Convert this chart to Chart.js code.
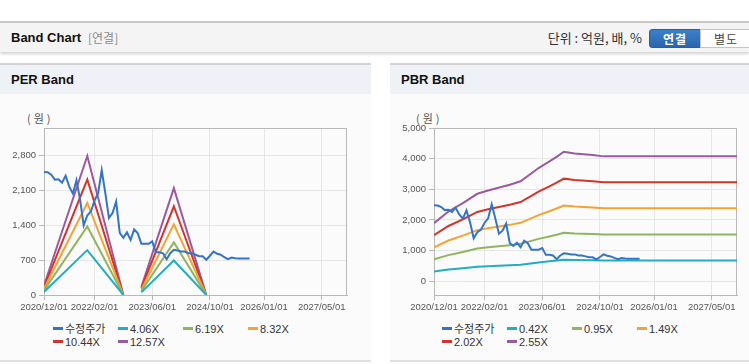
<!DOCTYPE html>
<html>
<head>
<meta charset="utf-8">
<script src="https://cdn.jsdelivr.net/npm/chart.js@4.4.1/dist/chart.umd.min.js"></script>
<style>
  body { margin: 0; width: 749px; height: 364px; overflow: hidden; position: relative; background: #fff;
         font-family: "Liberation Sans", "Noto Sans CJK KR", sans-serif; color: #333; }
  .topline { position: absolute; left: 0; top: 21px; width: 749px; height: 2px; background: #c8c8c8; }
  .bar { position: absolute; left: 0; top: 23px; width: 749px; height: 29px; background: #f4f4f4;
         box-shadow: 0 2px 3px rgba(0,0,0,0.18); }
  .bar .title { position: absolute; left: 11px; top: 7px; font-size: 13px; font-weight: bold; color: #111; }
  .bar .sub { position: absolute; left: 88px; top: 8px; font-size: 12px; color: #8a8a8a; font-family: "Noto Sans CJK KR", sans-serif; line-height: 14px; }
  .bar .unit { position: absolute; right: 107px; top: 6px; font-size: 13px; color: #333; font-family: "Noto Sans CJK KR", sans-serif; line-height: 17px; }
  .btn { position: absolute; top: 6px; height: 19px; width: 52px; box-sizing: border-box; font-size: 12px; line-height: 17px;
         text-align: center; font-family: "Noto Sans CJK KR", sans-serif; font-weight: bold; letter-spacing: 1px; }
  .btn.on { left: 649px; background: linear-gradient(#3d7fcc, #2a66ad); color: #fff; border: 1px solid #2a5f9e; border-radius: 3px 0 0 3px; }
  .btn.off { left: 700px; width: 52px; background: #fff; color: #444; border: 1px solid #c4c4c4; font-weight: normal; }
  .panel { position: absolute; top: 63px; height: 299px; background: #fbfbfb; border-top: 2px solid #d4d4d4; border-bottom: 2px solid #e0e0e0; box-sizing: border-box; }
  .panel .head { position: absolute; left: 0; top: 0; right: 0; height: 29px; background: #eef1f6; }
  .panel .head span { position: absolute; left: 11px; top: 7px; font-size: 13px; font-weight: bold; color: #111; }
  .unitlbl { position: absolute; top: 110px; font-size: 11px; color: #555; letter-spacing: 3px; font-family: "Noto Sans CJK KR", sans-serif; }
  canvas { position: absolute; top: 110px; }
  .legend { position: absolute; top: 323px; width: 270px; font-size: 11px; line-height: 13px; color: #333; }
  .legend .item { display: inline-block; width: 65px; white-space: nowrap; }
  .legend .mark { display: inline-block; width: 10px; height: 3px; margin-right: 2px; vertical-align: 3px; }
</style>
</head>
<body>
<div class="topline"></div>
<div class="bar">
  <div class="title">Band Chart</div>
  <div class="sub">[연결]</div>
  <div class="unit">단위 : 억원, 배, %</div>
  <div class="btn on">연결</div>
  <div class="btn off">별도</div>
</div>
<div class="panel" style="left:0;width:371px"><div class="head"><span>PER Band</span></div></div>
<div class="panel" style="left:390px;width:362px"><div class="head"><span>PBR Band</span></div></div>
<div class="unitlbl" style="left:27px">(원)</div>
<div class="unitlbl" style="left:416px">(원)</div>
<canvas id="per" width="370" height="205" style="left:0"></canvas>
<canvas id="pbr" width="359" height="205" style="left:390px"></canvas>
<div class="legend" id="perLegend" style="left:53px"></div>
<div class="legend" id="pbrLegend" style="left:442px"></div>
<script>
// x axis: months counted from 2020/12
const xTickMonths = [0, 14, 30, 46, 61, 77];
const xTickLabels = ['2020/12/01', '2022/02/01', '2023/06/01', '2024/10/01', '2026/01/01', '2027/05/01'];
const xMaxMonth = 84;

// 수정주가, monthly from 2020/12
const price = [2476, 2470, 2420, 2320, 2330, 2260, 2400, 2180, 2040, 2310,
               1920, 1400, 1600, 1680, 1900, 2050, 2510, 2050, 1550, 1650,
               1880, 1250, 1150, 1260, 1110, 1320, 1240, 1030, 1030, 1030,
               1080, 860, 860, 840, 720, 840, 910, 895, 875, 875,
               840, 840, 810, 780, 780, 710, 790, 875, 830, 810,
               760, 720, 755, 740, 735, 735, 735, 735];

// PER band vertices
const perLabels = ['4.06X', '6.19X', '8.32X', '10.44X', '12.57X'];
const perMonths = [0, 12, 22, 23, 27, 36, 45];
const per406 = [61, 903, 0, null, 53, 694, 0];
const per619 = [93, 1377, 0, null, 81, 1058, 0];
const per832 = [125, 1851, 0, null, 109, 1423, 0];
const per1044 = [157, 2323, 0, null, 137, 1785, 0];
const per1257 = [190, 2797, 0, null, 165, 2150, 0];

// PBR band vertices
const pbrLabels = ['0.42X', '0.95X', '1.49X', '2.02X', '2.55X'];
const pbrMonths = [0, 4, 8, 12, 15, 21, 24, 29, 32, 34, 36, 39, 44, 47, 84];
const pbr042 = [318, 380, 425, 475, 492, 522, 541, 612, 648, 673, 700, 691, 683, 676, 676];
const pbr095 = [712, 852, 955, 1068, 1108, 1177, 1219, 1381, 1461, 1517, 1580, 1558, 1540, 1525, 1525];
const pbr149 = [1107, 1329, 1489, 1667, 1730, 1839, 1905, 2158, 2283, 2372, 2469, 2437, 2407, 2380, 2380];
const pbr202 = [1501, 1802, 2019, 2260, 2346, 2493, 2583, 2926, 3096, 3216, 3347, 3303, 3264, 3227, 3227];
const pbr255 = [1895, 2275, 2549, 2853, 2961, 3147, 3260, 3693, 3908, 4060, 4225, 4170, 4120, 4074, 4074];

const perTicks = [0, 700, 1400, 2100, 2800];
const pbrTicks = [0, 1000, 2000, 3000, 4000, 5000];

const priceLabel = '수정주가';
const colors = ['#3474c8', '#22adc0', '#92b45e', '#f1a433', '#d1352b', '#9a5a9f'];

Chart.defaults.font.family = '"Liberation Sans", "Noto Sans CJK KR", sans-serif';
Chart.defaults.color = '#555';

const toPoints = (xs, ys) => ys.map((y, i) => ({ x: xs[i], y: y }));

// gray box round the plot area
const plotFrame = {
  id: 'plotFrame',
  beforeDatasetsDraw(chart) {
    const { ctx, chartArea: a } = chart;
    ctx.save();
    ctx.strokeStyle = '#b8b8b8';
    ctx.lineWidth = 1;
    ctx.strokeRect(Math.round(a.left) + 0.5, Math.round(a.top) + 0.5,
                   Math.round(a.right - a.left) - 1, Math.round(a.bottom - a.top));
    ctx.restore();
  }
};

function lineSet(label, points, color) {
  return { label, data: points, borderColor: color, backgroundColor: color, borderWidth: 2,
           pointRadius: 0, tension: 0, spanGaps: false, fill: false };
}

function makeChart(id, bandLabels, bandMonths, bands, yMin, yMax, yTicks, padRight) {
  const datasets = [lineSet(priceLabel, toPoints(price.map((_, i) => i), price), colors[0])];
  bands.forEach((b, k) => datasets.push(lineSet(bandLabels[k], toPoints(bandMonths, b), colors[k + 1])));
  return new Chart(document.getElementById(id), {
    type: 'line',
    data: { datasets },
    plugins: [plotFrame],
    options: {
      responsive: false,
      animation: false,
      devicePixelRatio: 1,
      layout: { padding: { top: 18, right: padRight, bottom: 0, left: 0 } },
      plugins: { legend: { display: false }, tooltip: { enabled: false } },
      scales: {
        x: {
          type: 'linear', min: 0, max: xMaxMonth,
          afterBuildTicks: s => { s.ticks = xTickMonths.map(v => ({ value: v })); },
          afterFit: s => { s.height = 20; },
          grid: { color: '#e6e6e6', tickColor: '#b8b8b8', tickLength: 5 },
          border: { color: '#b8b8b8' },
          ticks: { font: { size: 9.5 }, color: '#555', padding: 2, maxRotation: 0,
                   callback: v => xTickLabels[xTickMonths.indexOf(v)] }
        },
        y: {
          min: yMin, max: yMax,
          afterBuildTicks: s => { s.ticks = yTicks.map(v => ({ value: v })); },
          afterFit: s => { s.width = 44; },
          grid: { color: '#e6e6e6', tickColor: '#b8b8b8', tickLength: 5 },
          border: { color: '#b8b8b8' },
          ticks: { font: { size: 9.5 }, color: '#555', padding: 3,
                   callback: v => v.toLocaleString('en-US') }
        }
      }
    }
  });
}

function makeLegend(id, bandLabels) {
  const names = [priceLabel].concat(bandLabels);
  document.getElementById(id).innerHTML = names.map((n, i) =>
    '<span class="item"><span class="mark" style="background:' + colors[i] + '"></span>' + n + '</span>'
  ).join('');
}

makeChart('per', perLabels, perMonths, [per406, per619, per832, per1044, per1257], 0, 3360, perTicks, 23);
makeChart('pbr', pbrLabels, pbrMonths, [pbr042, pbr095, pbr149, pbr202, pbr255], -450, 5000, pbrTicks, 12);
makeLegend('perLegend', perLabels);
makeLegend('pbrLegend', pbrLabels);
</script>
</body>
</html>
